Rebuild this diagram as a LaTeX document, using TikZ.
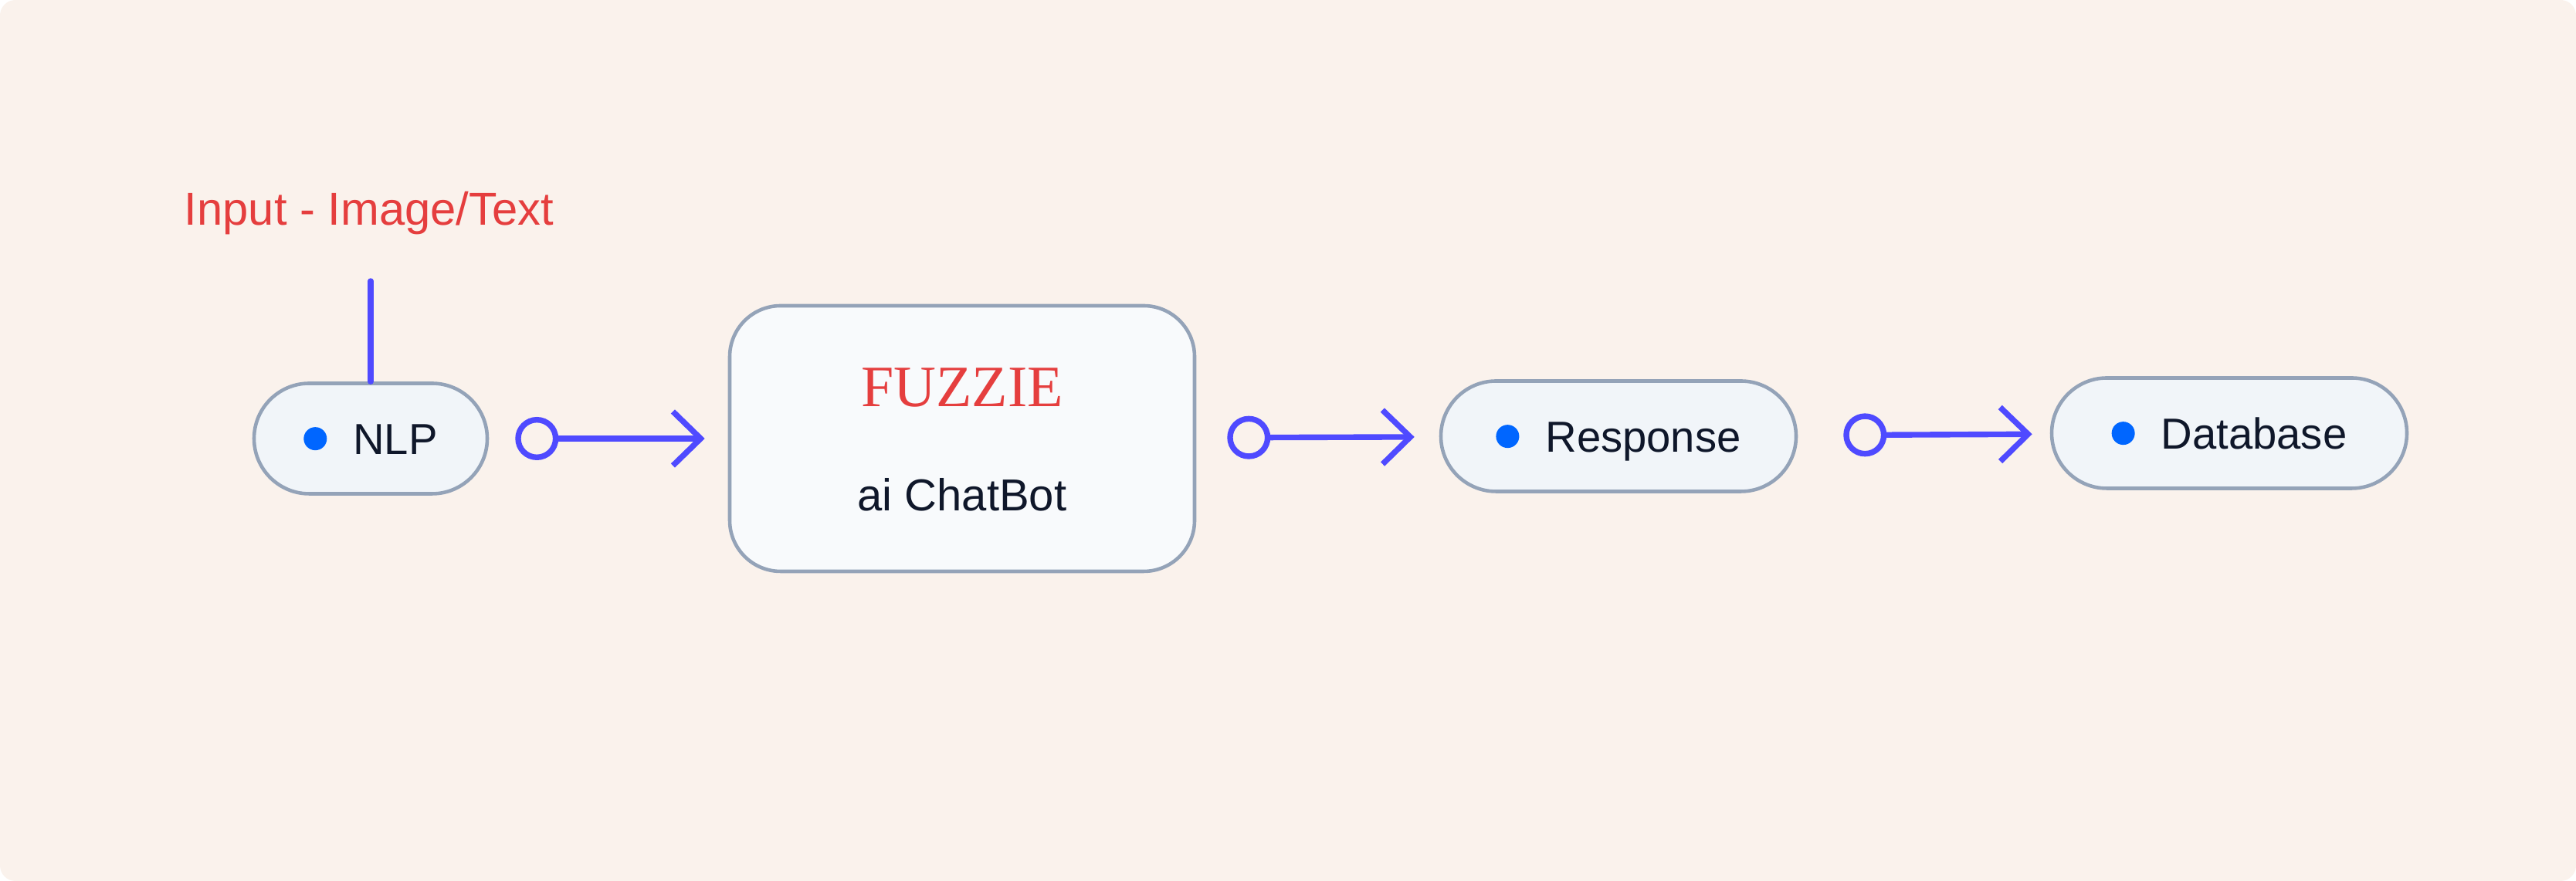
\documentclass[tikz,border=0pt]{standalone}
\usepackage{fontspec}
\setmainfont{Liberation Sans}
\newfontfamily\fuzziefont{Liberation Serif}
\usetikzlibrary{arrows.meta}
\definecolor{PageCream}{HTML}{FAF2EC}
\definecolor{PillFill}{HTML}{F1F5F9}
\definecolor{BoxFill}{HTML}{F8FAFC}
\definecolor{EdgeSlate}{HTML}{94A3B8}
\definecolor{FlowIndigo}{HTML}{4F4AFF}
\definecolor{DotBlue}{HTML}{0066FF}
\definecolor{InkNavy}{HTML}{0F172A}
\definecolor{AlertRed}{HTML}{E53E3E}
\newcommand{\pilldot}{\tikz[baseline=-5.7pt]\fill[DotBlue] (0,0) circle (0.15);\hspace{0.34cm}}

\begin{document}
\begin{tikzpicture}[font=\fontsize{16}{19}\selectfont, text=InkNavy,
  pill/.style={draw=EdgeSlate, line width=1.3pt, fill=PillFill, rounded corners=0.715cm,
    minimum height=1.43cm, inner sep=0pt, text height=14.4pt, text depth=2.9pt},
  chatbox/.style={draw=EdgeSlate, line width=1.3pt, fill=BoxFill, rounded corners=0.66cm,
    minimum width=6.02cm, minimum height=3.44cm},
  flow/.style={FlowIndigo, line width=2.1pt, line cap=round, line join=round,
    arrows={Circle[open, length=5.6mm, width=5.6mm]-Straight Barb[length=3.6mm, width=7mm]}}]
  \fill[PageCream, rounded corners=0.2cm] (0,0) rectangle (33.36,11.41);

  % pipeline blocks
  \node[pill, minimum width=3.02cm] (nlp) at (4.80,5.73) {\pilldot NLP};
  \node[chatbox] (bot) at (12.46,5.73) {};
  \node[pill, minimum width=4.60cm] (reply) at (20.96,5.76) {\pilldot Response};
  \node[pill, minimum width=4.60cm] (store) at (28.87,5.80) {\pilldot Database};

  \node[anchor=base, text=AlertRed, font=\fuzziefont\fontsize{21.6}{26}\selectfont] (brand) at (12.46,6.14) {FUZZIE};
  \node[anchor=base, font=\fontsize{16.5}{20}\selectfont] (role) at (12.46,4.79) {ai ChatBot};

  % input feed
  \node[anchor=base, text=AlertRed, font=\fontsize{17}{20}\selectfont] (input) at (4.78,8.49) {Input - Image/Text};
  \coordinate (feed) at (4.80,7.77);
  \draw[FlowIndigo, line width=2.1pt, line cap=round] (nlp.north) -- (feed);

  % connectors
  \draw[flow, shorten <=0.34cm, shorten >=0.30cm] (nlp) -- (bot);
  \draw[flow, shorten <=0.40cm, shorten >=0.32cm] (bot) -- (reply);
  \draw[flow, shorten <=0.59cm, shorten >=0.23cm] (reply) -- (store);
\end{tikzpicture}
\end{document}
